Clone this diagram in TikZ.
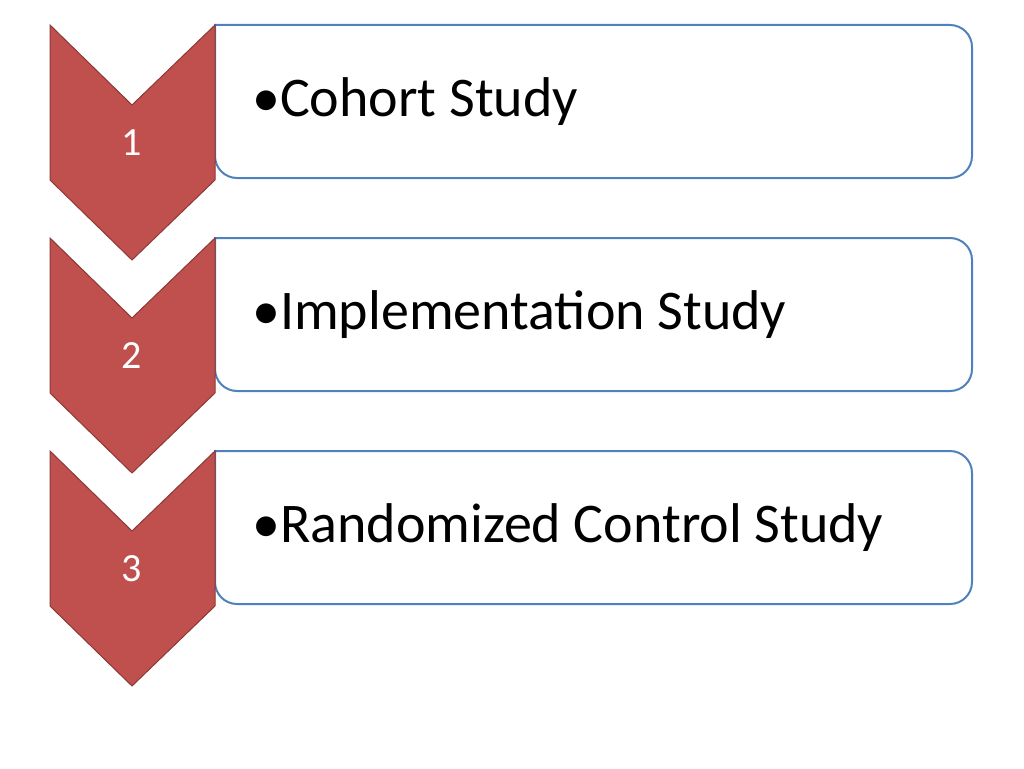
\documentclass[tikz,border=0pt]{standalone}
\usepackage{fontspec}
\setmainfont{Carlito}
\definecolor{chev}{HTML}{C0504D}
\definecolor{chevb}{HTML}{8C3836}
\definecolor{boxb}{HTML}{4F81BD}
\begin{document}
\begin{tikzpicture}[x=1pt,y=-1pt,
  boxst/.style={draw=boxb,line width=2pt,fill=white,rounded corners=22pt},
  chevst/.style={draw=chevb,line width=1pt,fill=chev},
  numst/.style={text=white,font=\fontsize{40}{48}\selectfont},
  txtst/.style={anchor=west,font=\fontsize{56}{66}\selectfont,inner sep=0pt}]
\useasboundingbox (0,0) rectangle (1024,768);
\foreach \i/\t/\lab in {0/1/Cohort Study,1/2/Implementation Study,2/3/Randomized Control Study}{
  \pgfmathsetmacro{\o}{\i*213}
  \draw[boxst] (215,25+\o) -- (972,25+\o) -- (972,178+\o) -- (215,178+\o) [sharp corners] -- cycle;
  \draw[chevst] (50,25+\o) -- (132,105+\o) -- (215,25+\o) -- (215,180+\o) -- (132,260+\o) -- (50,180+\o) -- cycle;
  \node[numst] (n\t) at (132,143+\o) {\t};
  \node[txtst] (t\t) at (252,102+\o) {\textbullet\lab};
}
\end{tikzpicture}
\end{document}
